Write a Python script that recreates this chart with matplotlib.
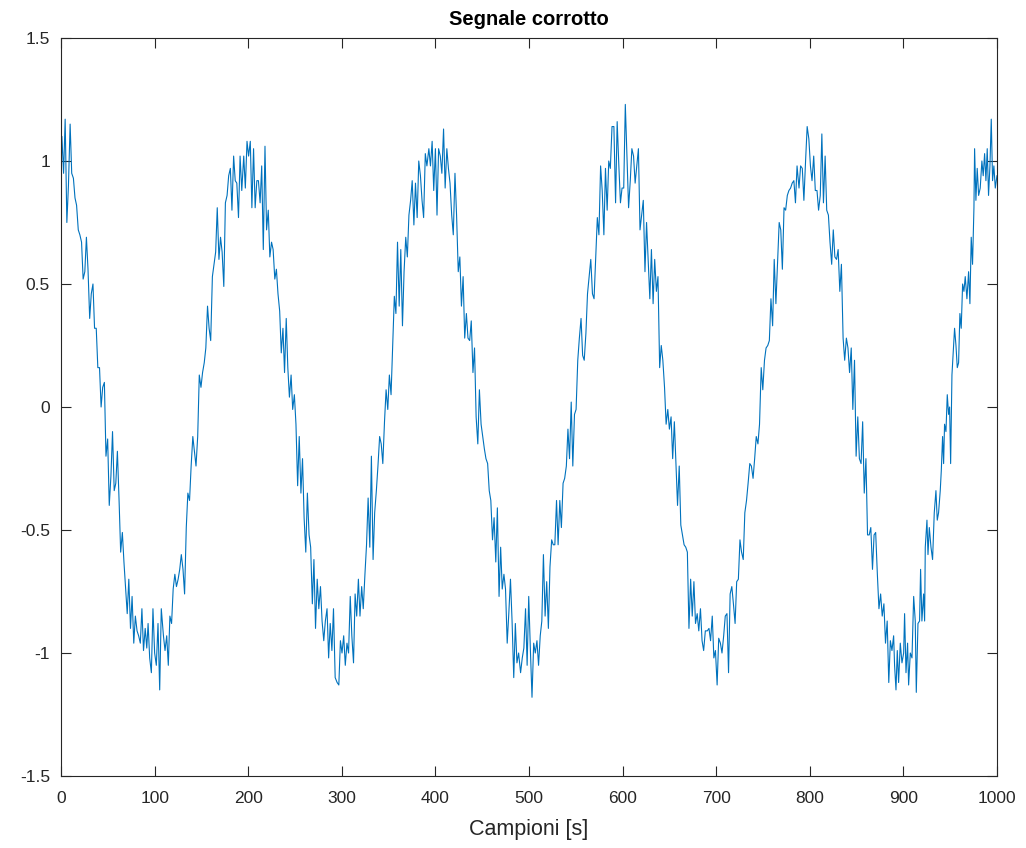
import matplotlib
matplotlib.use("Agg")
import matplotlib.pyplot as plt

# valori (campione, ampiezza), a tratti
tratto_1 = [(0, 0.95), (0.9, 1.10), (2.7, 0.95), (4.4, 1.17), (6.2, 0.75), (7.9, 0.90), (9.7, 1.15),
            (11.4, 0.95), (13.2, 0.93), (14.9, 0.85), (16.6, 0.82), (18.4, 0.72), (20.1, 0.70),
            (21.9, 0.67), (23.6, 0.52), (25.4, 0.55), (27.1, 0.69), (28.8, 0.56), (30.6, 0.36),
            (32.3, 0.46), (34.1, 0.50), (35.8, 0.32), (37.6, 0.32), (39.3, 0.16), (41.1, 0.16),
            (42.8, 0.00), (44.5, 0.08), (46.3, 0.10), (48.0, -0.20), (49.8, -0.13), (51.5, -0.40),
            (53.3, -0.28), (55.0, -0.10), (56.8, -0.34), (58.5, -0.31), (60.2, -0.18), (62.0, -0.38),
            (63.7, -0.59), (65.5, -0.51), (67.2, -0.63), (69.0, -0.74), (70.7, -0.84), (72.4, -0.70),
            (74.2, -0.90), (75.9, -0.77), (77.7, -0.96), (79.4, -0.85), (81.2, -0.91), (82.9, -0.93),
            (84.7, -0.96), (86.4, -0.82), (88.1, -0.99), (89.9, -0.90), (91.6, -0.98)]

tratto_2 = [(93.0, -0.88), (94.7, -1.02), (96.5, -1.08), (98.2, -0.82), (100.0, -1.00), (101.8, -1.05),
            (103.6, -0.88), (105.4, -1.15), (107.1, -0.82), (109.4, -0.93), (111.1, -0.99), (112.9, -0.93),
            (114.6, -1.05), (116.3, -0.85), (118.1, -0.88), (119.8, -0.74), (121.6, -0.68), (123.3, -0.73),
            (125.1, -0.70), (126.8, -0.66), (128.5, -0.60), (130.3, -0.66), (132.0, -0.76), (133.8, -0.49),
            (135.5, -0.35), (137.3, -0.38), (139.0, -0.24), (140.8, -0.12), (142.5, -0.18), (144.2, -0.24),
            (146.0, -0.12), (147.7, 0.13), (149.5, 0.08), (151.2, 0.14), (153.0, 0.18), (154.7, 0.24),
            (156.5, 0.41), (158.2, 0.32), (159.9, 0.27), (161.7, 0.53), (163.4, 0.58), (165.2, 0.63),
            (166.9, 0.81), (168.7, 0.60), (170.4, 0.69), (172.1, 0.63), (173.9, 0.49), (175.6, 0.83),
            (177.4, 0.86), (179.1, 0.94), (180.9, 0.97), (182.6, 0.80), (184.4, 1.02), (186.1, 0.92),
            (187.8, 0.91), (189.6, 0.77), (191.3, 1.02), (193.1, 0.88)]

tratto_3 = [(195.2, 1.02), (196.9, 0.89), (198.7, 1.08), (200.4, 1.02), (202.2, 1.08), (203.9, 0.81),
            (205.7, 1.05), (207.4, 0.81), (209.2, 0.92), (210.9, 0.92), (212.7, 0.83), (214.4, 0.98),
            (216.1, 0.64), (217.9, 1.06), (219.6, 0.72), (221.4, 0.80), (223.1, 0.61), (224.9, 0.67),
            (226.6, 0.64), (228.4, 0.52), (230.1, 0.56), (231.8, 0.46), (233.6, 0.39), (235.3, 0.22),
            (237.1, 0.32), (238.8, 0.14), (240.6, 0.36), (242.3, 0.16), (244.0, 0.04), (245.8, 0.13),
            (247.5, -0.01), (249.3, 0.05), (251.0, -0.07), (252.8, -0.32), (254.5, -0.12), (256.3, -0.35),
            (258.0, -0.21), (259.7, -0.45), (261.5, -0.59), (263.2, -0.35), (265.0, -0.52), (266.7, -0.57),
            (268.5, -0.80), (270.2, -0.62), (271.9, -0.90), (273.7, -0.70), (275.4, -0.82), (277.2, -0.73),
            (278.9, -0.87), (280.7, -0.95), (282.4, -0.87), (284.2, -0.82), (285.9, -1.02), (287.6, -0.88),
            (289.4, -0.99), (291.1, -0.82), (292.9, -1.10)]

tratto_4 = [(295.0, -1.12), (296.8, -1.13), (298.5, -0.95), (300.2, -1.00), (302.0, -0.93), (303.7, -1.05),
            (305.5, -0.96), (307.2, -1.00), (309.0, -0.77), (310.7, -0.93), (312.5, -1.04), (314.2, -0.76),
            (315.9, -0.85), (317.7, -0.70), (319.4, -0.85), (321.2, -0.73), (322.9, -0.82), (324.7, -0.68),
            (326.4, -0.56), (328.1, -0.37), (329.9, -0.57), (331.6, -0.20), (333.4, -0.62), (335.1, -0.43),
            (336.9, -0.34), (338.6, -0.24), (340.4, -0.12), (342.1, -0.15), (343.8, -0.23), (345.6, -0.06),
            (347.3, 0.07), (349.1, -0.01), (350.8, 0.13), (352.6, 0.05), (354.3, 0.24), (356.1, 0.45),
            (357.8, 0.38), (359.5, 0.67), (361.3, 0.41), (363.0, 0.64), (364.8, 0.33), (366.5, 0.55),
            (368.3, 0.69), (370.0, 0.61), (371.7, 0.78), (373.5, 0.84), (375.2, 0.92), (377.0, 0.74),
            (378.7, 0.91), (380.5, 0.77), (382.2, 1.00), (384.0, 0.94), (385.7, 0.84), (387.4, 0.77),
            (389.2, 1.03), (390.9, 0.98)]

tratto_5 = [(393.0, 1.05), (394.7, 0.98), (396.5, 1.08), (398.2, 0.88), (400.0, 1.05), (401.7, 0.78),
            (403.4, 1.05), (405.2, 1.02), (406.9, 0.95), (408.7, 1.13), (410.4, 0.89), (412.2, 1.05),
            (413.9, 0.97), (415.6, 0.91), (417.4, 0.78), (419.1, 0.70), (420.9, 0.95), (422.6, 0.78),
            (424.4, 0.55), (426.1, 0.61), (427.8, 0.41), (429.6, 0.53), (431.3, 0.28), (433.1, 0.38),
            (434.8, 0.28), (436.6, 0.27), (438.3, 0.35), (440.1, 0.14), (441.8, 0.24), (443.5, -0.04),
            (445.3, -0.15), (447.0, 0.07), (448.8, -0.07), (450.5, -0.12), (452.3, -0.17), (454.0, -0.21),
            (455.8, -0.23), (457.5, -0.34), (459.2, -0.38), (461.0, -0.54), (462.7, -0.45), (464.5, -0.63),
            (466.2, -0.41), (468.0, -0.77), (469.7, -0.57), (471.4, -0.74), (473.2, -0.68), (474.9, -0.74),
            (476.7, -0.96), (478.4, -0.84), (480.2, -0.70), (481.9, -0.87), (483.7, -1.10), (485.4, -0.88),
            (487.1, -1.04), (488.9, -1.00)]

tratto_6 = [(491.0, -1.08), (492.8, -1.02), (494.5, -0.98), (496.3, -0.82), (498.0, -1.05), (499.7, -0.77),
            (501.5, -0.99), (503.2, -1.18), (505.0, -0.96), (506.7, -1.00), (508.5, -0.95), (510.2, -1.05),
            (512.0, -0.93), (513.7, -0.87), (515.4, -0.60), (517.2, -0.85), (518.9, -0.71), (520.7, -0.90),
            (522.4, -0.65), (524.2, -0.54), (525.9, -0.56), (527.6, -0.56), (529.4, -0.38), (531.1, -0.56),
            (532.9, -0.38), (534.6, -0.49), (536.4, -0.31), (538.1, -0.29), (539.9, -0.24), (541.6, -0.09),
            (543.3, -0.21), (545.1, 0.02), (546.8, -0.24), (548.6, -0.03), (550.3, -0.01), (552.1, 0.19),
            (553.8, 0.28), (555.6, 0.36), (557.3, 0.21), (559.0, 0.19), (560.8, 0.30), (562.5, 0.46),
            (564.3, 0.53), (566.0, 0.60), (567.8, 0.46), (569.5, 0.44), (571.2, 0.60), (573.0, 0.77),
            (574.7, 0.70), (576.5, 0.98), (578.2, 0.88), (580.0, 0.70), (581.7, 0.97), (583.5, 0.80),
            (585.2, 1.00), (586.9, 0.97), (588.7, 1.14)]

tratto_7 = [(590.7, 1.14), (592.5, 0.83), (594.2, 1.16), (596.0, 0.98), (597.7, 0.83), (599.4, 0.89),
            (601.2, 0.89), (602.9, 1.23), (604.7, 1.02), (606.4, 0.81), (608.2, 0.92), (609.9, 1.05),
            (611.7, 1.02), (613.4, 0.91), (615.1, 0.98), (616.9, 1.05), (618.6, 0.72), (620.4, 0.78),
            (622.1, 0.84), (623.9, 0.55), (625.6, 0.75), (627.3, 0.60), (629.1, 0.44), (630.8, 0.64),
            (632.6, 0.42), (634.3, 0.60), (636.1, 0.47), (637.8, 0.53), (639.6, 0.16), (641.3, 0.25),
            (643.0, 0.19), (644.8, 0.08), (646.5, -0.07), (648.3, -0.01), (650.0, -0.09), (651.8, -0.04),
            (653.5, -0.21), (655.3, -0.06), (657.0, -0.23), (658.7, -0.40), (660.5, -0.24), (662.2, -0.48),
            (664.0, -0.52), (665.7, -0.56), (667.5, -0.57), (669.2, -0.59), (670.9, -0.90), (672.7, -0.70),
            (674.4, -0.85), (676.2, -0.71), (677.9, -0.88), (679.7, -0.84), (681.4, -0.91), (683.2, -0.82),
            (684.9, -0.95), (686.6, -0.99), (688.4, -0.91)]

tratto_8 = [(690.5, -0.91), (692.3, -0.90), (694.0, -0.95), (695.8, -0.85), (697.5, -1.02), (699.2, -0.99),
            (701.0, -1.13), (702.7, -0.94), (704.5, -0.96), (706.2, -1.00), (708.0, -0.93), (709.7, -0.85),
            (711.5, -0.84), (713.2, -1.08), (714.9, -0.76), (716.7, -0.73), (718.4, -0.80), (720.2, -0.88),
            (721.9, -0.71), (723.7, -0.70), (725.4, -0.54), (727.1, -0.59), (728.9, -0.62), (730.6, -0.43),
            (732.4, -0.38), (734.1, -0.31), (735.9, -0.23), (737.6, -0.24), (739.4, -0.29), (741.1, -0.21),
            (742.8, -0.12), (744.6, -0.15), (746.3, -0.07), (748.1, 0.16), (749.8, 0.07), (751.6, 0.19),
            (753.3, 0.24), (755.1, 0.25), (756.8, 0.27), (758.5, 0.44), (760.3, 0.33), (762.0, 0.60),
            (763.8, 0.42), (765.5, 0.58), (767.3, 0.75), (769.0, 0.72), (770.7, 0.56), (772.5, 0.81),
            (774.2, 0.80), (776.0, 0.86), (777.7, 0.88), (779.5, 0.89), (781.2, 0.91), (783.0, 0.92),
            (784.7, 0.83), (786.4, 0.98)]

tratto_9 = [(788.5, 0.89), (790.2, 0.98), (792.0, 0.97), (793.7, 0.84), (795.5, 1.00), (797.2, 1.14),
            (799.0, 1.09), (800.7, 0.98), (802.4, 0.92), (804.2, 1.02), (805.9, 0.88), (807.7, 0.88),
            (809.4, 0.80), (811.2, 0.86), (812.9, 1.11), (814.6, 0.83), (816.4, 1.02), (818.1, 0.80),
            (819.9, 0.78), (821.6, 0.67), (823.4, 0.58), (825.1, 0.72), (826.8, 0.61), (828.6, 0.60),
            (830.3, 0.64), (832.1, 0.47), (833.8, 0.58), (835.6, 0.28), (837.3, 0.19), (839.1, 0.28),
            (840.8, 0.24), (842.5, 0.14), (844.3, 0.24), (846.0, -0.01), (847.8, 0.19), (849.5, -0.20),
            (851.3, -0.04), (853.0, -0.21), (854.8, -0.23), (856.5, -0.06), (858.2, -0.35), (860.0, -0.21),
            (861.7, -0.52), (863.5, -0.52), (865.2, -0.49), (867.0, -0.66), (868.7, -0.52), (870.4, -0.51),
            (872.2, -0.68), (873.9, -0.82), (875.7, -0.76), (877.4, -0.85), (879.2, -0.80), (880.9, -0.96),
            (882.7, -0.87), (884.4, -1.12), (886.1, -0.95)]

tratto_10 = [(887.8, -0.99), (889.6, -0.93), (890.6, -1.05), (892.1, -1.15), (893.5, -0.99), (894.9, -1.12),
             (896.7, -0.96), (898.5, -1.04), (900.3, -1.00), (901.3, -0.84), (902.8, -1.08), (904.5, -0.96),
             (905.6, -1.13), (907.4, -1.00), (909.2, -1.02), (911.0, -0.77), (912.7, -0.87), (913.8, -1.16),
             (915.6, -0.88), (917.3, -0.87), (918.4, -0.66), (919.8, -0.87), (921.6, -0.76), (922.7, -0.87),
             (923.4, -0.57), (925.2, -0.46), (926.3, -0.60), (927.7, -0.49), (929.5, -0.57), (931.2, -0.62),
             (933.0, -0.43), (934.8, -0.34), (936.2, -0.46), (937.6, -0.43), (939.4, -0.34), (940.5, -0.26),
             (941.9, -0.12), (943.0, -0.23), (944.0, -0.07), (945.5, -0.10), (946.9, 0.05), (948.3, -0.03),
             (949.4, 0.00), (950.5, -0.23), (951.9, 0.13), (953.7, 0.25), (954.7, 0.32), (956.2, 0.25),
             (957.6, 0.16), (959.0, 0.18), (960.4, 0.38), (961.8, 0.32), (963.3, 0.50), (964.7, 0.47),
             (966.1, 0.53), (967.9, 0.44), (969.7, 0.55), (971.1, 0.42), (972.5, 0.69), (973.9, 0.58),
             (975.4, 0.81), (976.1, 1.05), (977.5, 0.84), (978.9, 0.97), (980.4, 0.86), (982.1, 0.89),
             (983.9, 1.00), (985.3, 0.94), (986.8, 1.03), (988.2, 0.92), (989.6, 1.05), (991.0, 0.86),
             (992.5, 0.98), (993.9, 1.17), (995.3, 0.92), (996.7, 0.98), (998.2, 0.89), (1000.0, 0.94)]

tratti = [tratto_1, tratto_2, tratto_3, tratto_4, tratto_5,
          tratto_6, tratto_7, tratto_8, tratto_9, tratto_10]

x_ticks = [0, 100, 200, 300, 400, 500, 600, 700, 800, 900, 1000]
y_ticks = [-1.5, -1, -0.5, 0, 0.5, 1, 1.5]
y_labels = ["-1.5", "-1", "-0.5", "0", "0.5", "1", "1.5"]

campioni = []
segnale = []
for t in tratti:
    for c, v in t:
        campioni.append(c)
        segnale.append(v)

plt.rcParams['font.family'] = ['Liberation Sans', 'DejaVu Sans']

fig = plt.figure(figsize=(10.26, 8.48), dpi=100)
ax = fig.add_axes([0.0595, 0.0849, 0.9122, 0.8703])

ax.plot(campioni, segnale, color='#0072BD', linewidth=0.8)

ax.set_xlim(0, 1000)
ax.set_ylim(-1.5, 1.5)
ax.set_xticks(x_ticks)
ax.set_yticks(y_ticks)
ax.set_yticklabels(y_labels)
ax.tick_params(direction='in', length=7, width=0.8, top=True, right=True,
               labelsize=12.5, colors='#262626')
ax.tick_params(axis='x', pad=11)
ax.tick_params(axis='y', pad=8)
for s in ax.spines.values():
    s.set_color('#262626')
    s.set_linewidth(0.8)

ax.set_title("Segnale corrotto", fontsize=14.5, fontweight='bold', color='black', pad=9)
ax.set_xlabel("Campioni [s]", fontsize=15.5, color='#262626', labelpad=9)

fig.savefig("out.png", dpi=100)
